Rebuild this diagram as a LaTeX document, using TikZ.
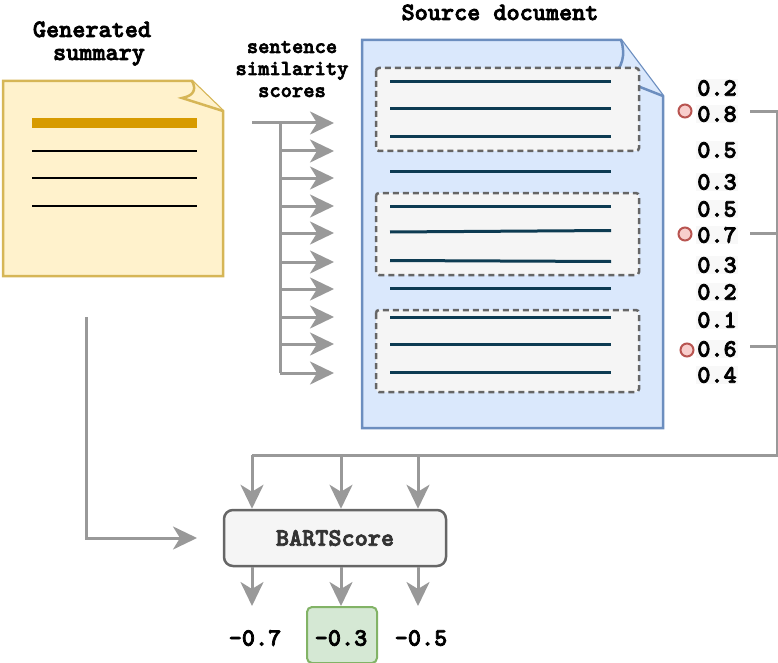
\documentclass[tikz,border=0pt]{standalone}
\usepackage{fontspec}
\newfontfamily\typewriterbold{lmmonolt10-bold}[Extension=.otf, FakeBold=3]
\usetikzlibrary{arrows.meta}

\definecolor{noteFill}{HTML}{FFF2CC}
\definecolor{noteLine}{HTML}{D6B656}
\definecolor{hiLine}{HTML}{D79B00}
\definecolor{docFill}{HTML}{DAE8FC}
\definecolor{docLine}{HTML}{6C8EBF}
\definecolor{txtLine}{HTML}{0D3B52}
\definecolor{boxFill}{HTML}{F5F5F5}
\definecolor{boxLine}{HTML}{666666}
\definecolor{connGray}{HTML}{999999}
\definecolor{dotFill}{HTML}{F8CECC}
\definecolor{dotLine}{HTML}{B85450}
\definecolor{winFill}{HTML}{D5E8D4}
\definecolor{winLine}{HTML}{82B366}
\definecolor{numBack}{HTML}{F8F8F8}
\definecolor{darkText}{HTML}{333333}

\tikzset{
  wire/.style={draw=connGray, line width=3pt},
  conn/.style={wire, -{Stealth[length=24pt,width=23pt,inset=7pt]}},
  bigtext/.style={font=\typewriterbold\fontsize{25}{29}\selectfont, inner sep=0pt},
  smalltext/.style={font=\typewriterbold\fontsize{21.5}{25}\selectfont, inner sep=0pt},
  num/.style={bigtext, fill=numBack, inner sep=1.5pt},
  dot/.style={circle, draw=dotLine, fill=dotFill, line width=2pt, minimum size=13pt, inner sep=0pt},
  segbox/.style={draw=boxLine, fill=boxFill, line width=2.5pt, dash pattern=on 6pt off 4pt, rounded corners=3pt},
  docrule/.style={draw=txtLine, line width=3pt},
  noterule/.style={draw=black, line width=2.5pt},
}

\begin{document}
\begin{tikzpicture}[x=1pt, y=-1pt]
\useasboundingbox (0,0) rectangle (778,663);

% ---- titles ----
\node[bigtext, anchor=base] (tGen) at (92,37) {Generated};
\node[bigtext, anchor=base] (tSum) at (99,60) {summary};
\node[bigtext, anchor=base] (tSrc) at (500,20) {Source document};
\node[smalltext, anchor=base] (tSen) at (292,53) {sentence};
\node[smalltext, anchor=base] (tSim) at (292,75) {similarity};
\node[smalltext, anchor=base] (tSco) at (292,97) {scores};

% ---- generated summary (note with folded corner) ----
\node[inner sep=0pt, minimum width=220pt, minimum height=195pt] (summary) at (113,178.5) {};
\draw[fill=noteFill, draw=noteLine, line width=2.5pt, line join=miter]
  (3,81) -- (192,81) -- (223,111) -- (223,276) -- (3,276) -- cycle;
\draw[fill=noteFill, draw=noteLine, line width=2.5pt]
  (192,81) .. controls (197,90) and (193,96) .. (182,98) -- (223,111);
\draw[draw=hiLine, line width=10pt] (32,123) -- (197,123);
\draw[noterule] (32,151) -- (197,151);
\draw[noterule] (32,178) -- (197,178);
\draw[noterule] (32,206) -- (197,206);

% ---- source document ----
\node[inner sep=0pt, minimum width=301pt, minimum height=388pt] (source) at (512.5,234) {};
\draw[fill=docFill, draw=docLine, line width=2.5pt, line join=miter]
  (362,40) -- (621,40) -- (663,96) -- (663,428) -- (362,428) -- cycle;
\draw[fill=docFill, draw=docLine, line width=2.5pt]
  (621,40) .. controls (626,55) and (622,68) .. (612,76) -- (663,96);
\draw[segbox] (376,68) rectangle (639,151);
\draw[segbox] (376,193) rectangle (639,275);
\draw[segbox] (376,310) rectangle (639,392);
\foreach \yy in {82,109,137,172,206,288,317,344,372}
  \draw[docrule] (390,\yy) -- (611,\yy);
\draw[docrule] (390,232) -- (611,230.5);
\draw[docrule] (390,260.5) -- (611,261.5);

% ---- sentence similarity fan ----
\coordinate (fanIn) at (252,123);
\coordinate (fanTop) at (280,123);
\coordinate (fanBot) at (280,373);
\draw[conn] (fanIn) -- (334,123);
\draw[wire] (fanTop) -- (fanBot);
\foreach \yy in {151,178,206,233,262,289,317,344,373}
  \draw[conn] (280,\yy) -- (334,\yy);

% ---- similarity scores ----
\node[num] (n1)  at (717,88)  {0.2};
\node[num] (n2)  at (717,114) {0.8};
\node[num] (n3)  at (717,150) {0.5};
\node[num] (n4)  at (717,182) {0.3};
\node[num] (n5)  at (717,209) {0.5};
\node[num] (n6)  at (717,235) {0.7};
\node[num] (n7)  at (717,265) {0.3};
\node[num] (n8)  at (717,292) {0.2};
\node[num] (n9)  at (717,320) {0.1};
\node[num] (n10) at (717,349) {0.6};
\node[num] (n11) at (717,375) {0.4};

\node[dot] (d1) at (685,111) {};
\node[dot] (d2) at (685,234) {};
\node[dot] (d3) at (687,350) {};

% ---- selected segments routed to BARTScore ----
\coordinate (r1) at (750,112);
\coordinate (r2) at (750,233);
\coordinate (r3) at (750,346);
\coordinate (bus1) at (777,112);
\coordinate (bus2) at (777,233);
\coordinate (bus3) at (777,346);
\coordinate (busLow) at (777,455);
\coordinate (drop1) at (252,455);
\coordinate (drop2) at (341,455);
\coordinate (drop3) at (418,455);

\node[draw=boxLine, fill=boxFill, line width=2.5pt, rounded corners=9pt,
      minimum width=222pt, minimum height=56pt, inner sep=0pt,
      font=\typewriterbold\fontsize{25}{29}\selectfont, text=darkText] (bart) at (335,538) {BARTScore};

\draw[wire] (r1) -- (bus1) -- (busLow) -- (drop1);
\draw[wire] (r2) -- (bus2);
\draw[wire] (r3) -- (bus3);
\draw[conn] (drop1) -- (drop1 |- bart.north);
\draw[conn] (drop2) -- (drop2 |- bart.north);
\draw[conn] (drop3) -- (drop3 |- bart.north);

% ---- summary into BARTScore ----
\coordinate (sumOut) at (86,317);
\coordinate (sumBend) at (86,538);
\draw[conn] (sumOut) -- (sumBend) -- (197,538);

% ---- outputs ----
\node[draw=winLine, fill=winFill, line width=2pt, rounded corners=5pt,
      minimum width=70pt, minimum height=56pt, inner sep=0pt] (win) at (342,635) {};
\node[bigtext] (o1) at (255,638) {-0.7};
\node[bigtext] (o2) at (341,638) {-0.3};
\node[bigtext] (o3) at (421,638) {-0.5};
\coordinate (tip1) at (252,606);
\coordinate (tip2) at (341,606);
\coordinate (tip3) at (418,606);
\draw[conn] (tip1 |- bart.south) -- (tip1);
\draw[conn] (tip2 |- bart.south) -- (tip2);
\draw[conn] (tip3 |- bart.south) -- (tip3);
\end{tikzpicture}
\end{document}
